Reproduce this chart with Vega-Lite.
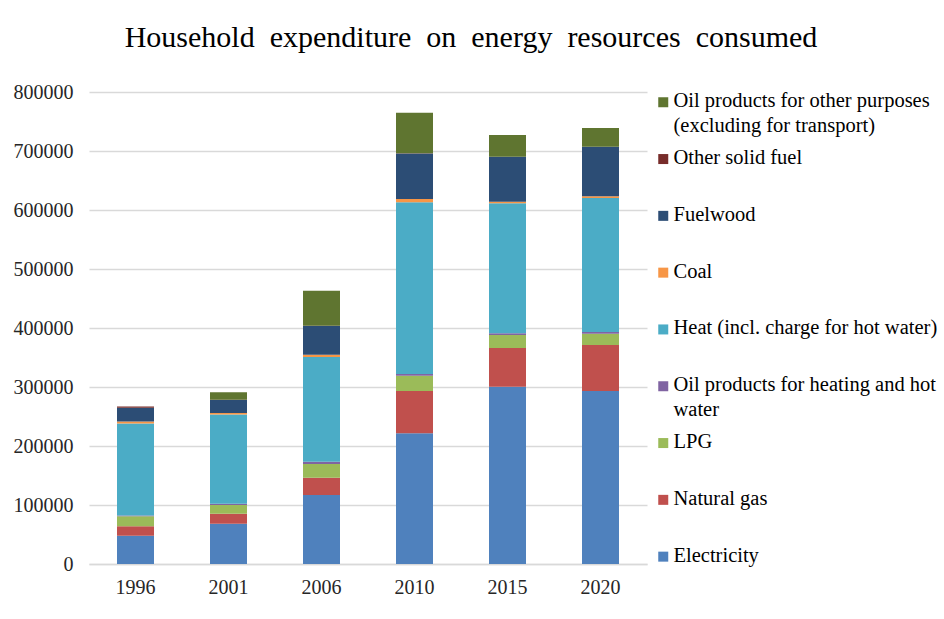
{
  "$schema": "https://vega.github.io/schema/vega-lite/v6.json",
  "autosize": "none",
  "width": 558,
  "height": 472,
  "padding": {"left": 89, "top": 92, "right": 297, "bottom": 55},
  "background": "white",
  "title": {
    "text": "Household\u00a0 expenditure\u00a0 on\u00a0 energy\u00a0 resources\u00a0 consumed",
    "font": "Liberation Serif",
    "fontSize": 30,
    "fontWeight": "normal",
    "color": "#000000",
    "anchor": "middle",
    "dx": 103,
    "offset": 29
  },
  "datasets": {
    "stackorder": [
      {"type": "Electricity", "k": 1},
      {"type": "Natural gas", "k": 2},
      {"type": "LPG", "k": 3},
      {"type": "Oil products for heating and hot water", "k": 4},
      {"type": "Heat (incl. charge for hot water)", "k": 5},
      {"type": "Coal", "k": 6},
      {"type": "Fuelwood", "k": 7},
      {"type": "Other solid fuel", "k": 8},
      {"type": "Oil products for other purposes (excluding for transport)", "k": 9}
    ]
  },
  "data": {
    "values": [
      {"year": "1996", "type": "Electricity", "value": 48000},
      {"year": "1996", "type": "Natural gas", "value": 16000},
      {"year": "1996", "type": "LPG", "value": 17000},
      {"year": "1996", "type": "Oil products for heating and hot water", "value": 1000},
      {"year": "1996", "type": "Heat (incl. charge for hot water)", "value": 156000},
      {"year": "1996", "type": "Coal", "value": 3500},
      {"year": "1996", "type": "Fuelwood", "value": 23500},
      {"year": "1996", "type": "Other solid fuel", "value": 2000},
      {"year": "1996", "type": "Oil products for other purposes (excluding for transport)", "value": 0},
      {"year": "2001", "type": "Electricity", "value": 68300},
      {"year": "2001", "type": "Natural gas", "value": 17000},
      {"year": "2001", "type": "LPG", "value": 14700},
      {"year": "2001", "type": "Oil products for heating and hot water", "value": 2200},
      {"year": "2001", "type": "Heat (incl. charge for hot water)", "value": 151000},
      {"year": "2001", "type": "Coal", "value": 2800},
      {"year": "2001", "type": "Fuelwood", "value": 22000},
      {"year": "2001", "type": "Other solid fuel", "value": 500},
      {"year": "2001", "type": "Oil products for other purposes (excluding for transport)", "value": 12500},
      {"year": "2006", "type": "Electricity", "value": 117000},
      {"year": "2006", "type": "Natural gas", "value": 29300},
      {"year": "2006", "type": "LPG", "value": 23200},
      {"year": "2006", "type": "Oil products for heating and hot water", "value": 3900},
      {"year": "2006", "type": "Heat (incl. charge for hot water)", "value": 177400},
      {"year": "2006", "type": "Coal", "value": 4000},
      {"year": "2006", "type": "Fuelwood", "value": 48600},
      {"year": "2006", "type": "Other solid fuel", "value": 300},
      {"year": "2006", "type": "Oil products for other purposes (excluding for transport)", "value": 59600},
      {"year": "2010", "type": "Electricity", "value": 221500},
      {"year": "2010", "type": "Natural gas", "value": 71700},
      {"year": "2010", "type": "LPG", "value": 26000},
      {"year": "2010", "type": "Oil products for heating and hot water", "value": 2800},
      {"year": "2010", "type": "Heat (incl. charge for hot water)", "value": 291000},
      {"year": "2010", "type": "Coal", "value": 5600},
      {"year": "2010", "type": "Fuelwood", "value": 77200},
      {"year": "2010", "type": "Other solid fuel", "value": 300},
      {"year": "2010", "type": "Oil products for other purposes (excluding for transport)", "value": 68900},
      {"year": "2015", "type": "Electricity", "value": 300500},
      {"year": "2015", "type": "Natural gas", "value": 65600},
      {"year": "2015", "type": "LPG", "value": 22000},
      {"year": "2015", "type": "Oil products for heating and hot water", "value": 2900},
      {"year": "2015", "type": "Heat (incl. charge for hot water)", "value": 220300},
      {"year": "2015", "type": "Coal", "value": 2800},
      {"year": "2015", "type": "Fuelwood", "value": 76000},
      {"year": "2015", "type": "Other solid fuel", "value": 200},
      {"year": "2015", "type": "Oil products for other purposes (excluding for transport)", "value": 36800},
      {"year": "2020", "type": "Electricity", "value": 293200},
      {"year": "2020", "type": "Natural gas", "value": 78000},
      {"year": "2020", "type": "LPG", "value": 19100},
      {"year": "2020", "type": "Oil products for heating and hot water", "value": 2900},
      {"year": "2020", "type": "Heat (incl. charge for hot water)", "value": 227100},
      {"year": "2020", "type": "Coal", "value": 2900},
      {"year": "2020", "type": "Fuelwood", "value": 83900},
      {"year": "2020", "type": "Other solid fuel", "value": 200},
      {"year": "2020", "type": "Oil products for other purposes (excluding for transport)", "value": 31700}
    ]
  },
  "transform": [
    {"lookup": "type", "from": {"data": {"name": "stackorder"}, "key": "type", "fields": ["k"]}}
  ],
  "mark": {"type": "bar", "width": 37},
  "encoding": {
    "x": {
      "field": "year",
      "type": "ordinal",
      "title": null,
      "axis": {
        "labelAngle": 0,
        "labelFont": "Liberation Serif",
        "labelFontSize": 20,
        "labelColor": "#262626",
        "labelPadding": 13,
        "ticks": false,
        "domainColor": "#d9d9d9",
        "domainWidth": 1.5
      }
    },
    "y": {
      "field": "value",
      "type": "quantitative",
      "stack": "zero",
      "title": null,
      "scale": {"domain": [0, 800000], "nice": false},
      "axis": {
        "values": [0, 100000, 200000, 300000, 400000, 500000, 600000, 700000, 800000],
        "format": "d",
        "labelFont": "Liberation Serif",
        "labelFontSize": 20,
        "labelColor": "#262626",
        "labelPadding": 16,
        "ticks": false,
        "domain": false,
        "gridColor": "#d9d9d9",
        "gridWidth": 1.5
      }
    },
    "order": {"field": "k", "type": "quantitative", "sort": "ascending"},
    "color": {
      "field": "type",
      "type": "nominal",
      "scale": {
        "domain": ["Electricity", "Natural gas", "LPG", "Oil products for heating and hot water", "Heat (incl. charge for hot water)", "Coal", "Fuelwood", "Other solid fuel", "Oil products for other purposes (excluding for transport)"],
        "range": ["#4F81BD", "#C0504D", "#9BBB59", "#8064A2", "#4BACC6", "#F79646", "#2C4D75", "#772C2A", "#5F7530"]
      },
      "legend": {
        "title": null,
        "orient": "none",
        "legendX": 564,
        "legendY": 0,
        "values": ["Oil products for other purposes (excluding for transport)", "Other solid fuel", "Fuelwood", "Coal", "Heat (incl. charge for hot water)", "Oil products for heating and hot water", "LPG", "Natural gas", "Electricity"],
        "symbolType": "square",
        "symbolSize": 100,
        "symbolStrokeWidth": 0,
        "labelFont": "Liberation Serif",
        "labelFontSize": 20.5,
        "labelColor": "#000000",
        "labelLimit": 400,
        "labelOffset": 0,
        "labelBaseline": "top",
        "gridAlign": "all",
        "rowPadding": 10.8,
        "labelExpr": "datum.label == 'Oil products for other purposes (excluding for transport)' ? ['Oil products for other purposes', '(excluding for transport)'] : datum.label == 'Oil products for heating and hot water' ? ['Oil products for heating and hot', 'water'] : datum.label",
        "encode": {"labels": {"update": {"dy": {"value": -11}, "lineHeight": {"value": 25}}}}
      }
    }
  },
  "config": {
    "view": {"stroke": null}
  }
}
